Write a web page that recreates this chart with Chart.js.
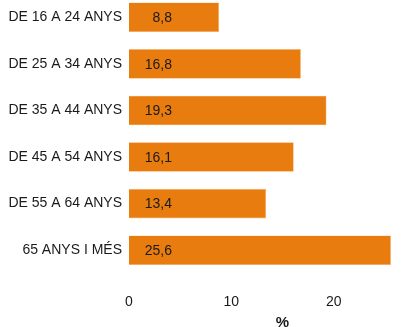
<!DOCTYPE html>
<html>
<head>
<meta charset="utf-8">
<script src="https://cdn.jsdelivr.net/npm/chart.js@4"></script>
<style>
  html, body { margin:0; padding:0; background:#fff; }
  #wrap { position:relative; width:402px; height:327px; overflow:hidden; }
  #box { position:absolute; left:0; top:-6px; width:440px; height:345px; }
</style>
</head>
<body>
<div id="wrap"><div id="box"><canvas id="chart"></canvas></div></div>
<script>
// age groups and share (%)
const labels = ['DE 16 A 24 ANYS','DE 25 A 34 ANYS','DE 35 A 44 ANYS','DE 45 A 54 ANYS','DE 55 A 64 ANYS','65 ANYS I MÉS'];
const values = [8.8, 16.8, 19.3, 16.1, 13.4, 25.6];
const xTicks = [0, 10, 20, 30];

const font = 'Liberation Sans, Arial, sans-serif';

// value labels inside the bars, right aligned a bit after the bar start
const valueLabels = {
  id:'valueLabels',
  afterDatasetsDraw(chart){
    const ctx = chart.ctx;
    const meta = chart.getDatasetMeta(0);
    ctx.save();
    ctx.font = '14px ' + font;
    ctx.fillStyle = '#1a1a1a';
    ctx.textAlign = 'right';
    ctx.textBaseline = 'middle';
    meta.data.forEach((bar, i)=>{
      ctx.fillText(values[i].toFixed(1).replace('.', ','), bar.base + 43, bar.y + 1);
    });
    ctx.restore();
  }
};

new Chart(document.getElementById('chart'), {
  type:'bar',
  data:{ labels, datasets:[{ data:values, backgroundColor:'#e87c0e', borderColor:'#f3b673', borderWidth:0.6, barPercentage:0.635, categoryPercentage:1 }]},
  options:{
    indexAxis:'y',
    responsive:true, maintainAspectRatio:false, animation:false,
    layout:{ padding:{ top:0, right:4, bottom:0, left:0 } },
    plugins:{ legend:{display:false}, tooltip:{enabled:false} },
    scales:{
      x:{
        min:0, max:30,
        afterBuildTicks: s => { s.ticks = xTicks.map(v => ({value:v})); },
        afterFit: s => { s.height = 65.5; s.paddingLeft = 0; s.paddingRight = 0; },
        grid:{ display:false, drawTicks:false },
        border:{ display:false },
        ticks:{ padding:20, color:'#1a1a1a', font:{ family:font, size:14 } },
        title:{ display:true, text:'%', color:'#1a1a1a', font:{ family:font, size:15, weight:'bold' }, padding:{ top:0, bottom:7 } }
      },
      y:{
        afterFit: s => { s.width = 129; s.paddingTop = 0; s.paddingBottom = 0; },
        grid:{ display:false, drawTicks:false },
        border:{ display:false },
        ticks:{ padding:7, color:'#1a1a1a', font:{ family:font, size:14 } }
      }
    }
  },
  plugins:[valueLabels]
});
</script>
</body>
</html>
